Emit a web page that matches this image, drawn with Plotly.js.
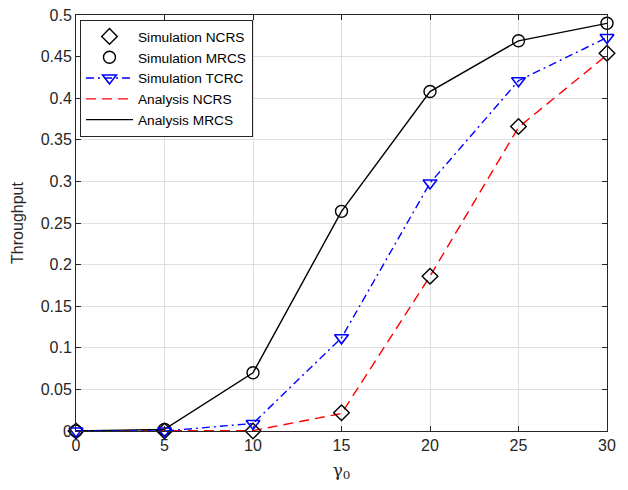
<!DOCTYPE html>
<html>
<head>
<meta charset="utf-8">
<script src="https://cdn.plot.ly/plotly-3.0.1.min.js"></script>
<style>html,body{margin:0;padding:0;background:#fff;}#chart{width:628px;height:490px;}</style>
</head>
<body>
<div id="chart"></div>
<script>
const gamma0 = [0, 5, 10, 15, 20, 25, 30];
const simNCRS = [0, 0, 0, 0.022, 0.186, 0.366, 0.454];
const simMRCS = [0, 0.002, 0.070, 0.264, 0.408, 0.469, 0.490];
const simTCRC = [0, 0, 0.009, 0.112, 0.298, 0.421, 0.473];
const anaNCRS = [0, 0, 0.0005, 0.021, 0.186, 0.365, 0.452];
const anaMRCS = [0, 0.002, 0.070, 0.264, 0.408, 0.469, 0.490];
const yTickVals = [0, 0.05, 0.1, 0.15, 0.2, 0.25, 0.3, 0.35, 0.4, 0.45, 0.5];
const yTickText = ["0", "0.05", "0.1", "0.15", "0.2", "0.25", "0.3", "0.35", "0.4", "0.45", "0.5"];
const xTickVals = [0, 5, 10, 15, 20, 25, 30];
const xTickText = ["0", "5", "10", "15", "20", "25", "30"];

const traces = [
  {x: gamma0, y: anaNCRS, name: 'Analysis NCRS', mode: 'lines', legendrank: 4,
   line: {color: '#ff0000', width: 1.4, dash: '10px,6px'}, cliponaxis: false},
  {x: gamma0, y: anaMRCS, name: 'Analysis MRCS', mode: 'lines', legendrank: 5,
   line: {color: '#000000', width: 1.4}, cliponaxis: false},
  {x: gamma0, y: simNCRS, name: 'Simulation NCRS', mode: 'markers', legendrank: 1,
   marker: {symbol: 'diamond-open', size: 12, color: '#000000', line: {width: 1.4, color: '#000000'}}, cliponaxis: false},
  {x: gamma0, y: simMRCS, name: 'Simulation MRCS', mode: 'markers', legendrank: 2,
   marker: {symbol: 'circle-open', size: 12, color: '#000000', line: {width: 1.4, color: '#000000'}}, cliponaxis: false},
  {x: gamma0, y: simTCRC, name: 'Simulation TCRC', mode: 'lines+markers', legendrank: 3,
   line: {color: '#0000ff', width: 1.4, dash: '8px,4px,2px,4px'},
   marker: {symbol: 'triangle-down-open', size: 12, color: '#0000ff', line: {width: 1.6, color: '#0000ff'}}, cliponaxis: false}
];

const axisCommon = {
  showline: true, linecolor: '#262626', linewidth: 1, mirror: 'ticks',
  ticks: 'inside', ticklen: 5, tickwidth: 1, tickcolor: '#262626',
  showgrid: true, gridcolor: '#dfdfdf', gridwidth: 1, zeroline: false,
  tickfont: {family: 'Liberation Sans, Arial, sans-serif', size: 16, color: '#262626'}
};

const layout = {
  width: 628, height: 490,
  margin: {l: 76, r: 21, t: 15, b: 59},
  paper_bgcolor: '#ffffff', plot_bgcolor: '#ffffff',
  showlegend: true,
  legend: {x: 0.0075, y: 0.988, xanchor: 'left', yanchor: 'top',
    bgcolor: '#ffffff', bordercolor: '#262626', borderwidth: 1,
    font: {family: 'Liberation Sans, Arial, sans-serif', size: 13.7, color: '#000000'},
    tracegroupgap: 0, itemwidth: 47},
  xaxis: Object.assign({}, axisCommon, {range: [0, 30], tickvals: xTickVals, ticktext: xTickText,
    title: {text: 'γ<sub>0</sub>', standoff: 10, font: {family: 'DejaVu Serif, Liberation Serif, serif', size: 17, color: '#262626'}}}),
  yaxis: Object.assign({}, axisCommon, {range: [0, 0.5], tickvals: yTickVals, ticktext: yTickText,
    title: {text: 'Throughput', standoff: 13, font: {family: 'Liberation Sans, Arial, sans-serif', size: 16, color: '#262626'}}})
};

Plotly.newPlot('chart', traces, layout, {displayModeBar: false, staticPlot: true});
</script>
</body>
</html>
